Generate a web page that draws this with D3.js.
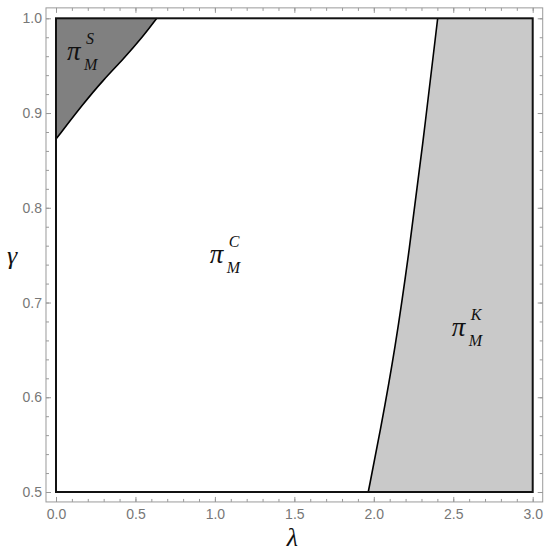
<!DOCTYPE html>
<html>
<head>
<meta charset="utf-8">
<script src="https://cdn.jsdelivr.net/npm/d3@7"></script>
<style>
  body { margin: 0; background: #fff; }
  .tick text { font-family: "Liberation Sans", Arial, sans-serif; font-size: 14px; fill: #777; }
  .tick line { stroke: #999; }
  .lab { font-family: "Liberation Serif", "Times New Roman", serif; font-style: italic; fill: #111; }
</style>
</head>
<body>
<svg id="chart" width="550" height="554"></svg>
<script>
// boundary of the pi_M^S region (lambda, gamma)
var sLambda = [0, 0.172, 0.298, 0.424, 0.549, 0.634];
var sGamma  = [0.8725, 0.910, 0.935, 0.957, 0.981, 1.0];

// boundary of the pi_M^K region (lambda, gamma)
var kLambda = [1.965, 2.040, 2.135, 2.225, 2.305, 2.402];
var kGamma  = [0.5, 0.5635, 0.6515, 0.7571, 0.8627, 1.0];

var xTicks = [0, 0.5, 1.0, 1.5, 2.0, 2.5, 3.0];
var yTicks = [0.5, 0.6, 0.7, 0.8, 0.9, 1.0];

// region labels: anchor of pi (lambda, gamma) and its superscript
var labelSup    = ["S", "C", "K"];
var labelLambda = [0.07, 0.968, 2.49];
var labelGamma  = [0.956, 0.742, 0.6645];

var svg = d3.select("#chart");
var margin = {left: 56, right: 17.3, top: 18.3, bottom: 62};
var W = 550, H = 554;

var x = d3.scaleLinear().domain([0, 3]).range([margin.left, W - margin.right]);
var y = d3.scaleLinear().domain([0.5, 1]).range([H - margin.bottom, margin.top]);

// frame is padded like mathematica does
var fx0 = x(-0.063), fx1 = x(3.063), fy0 = y(0.4895), fy1 = y(1.011);

var curve = d3.line().curve(d3.curveBasis)
    .x(function(d) { return x(d[0]); }).y(function(d) { return y(d[1]); });

var sPts = sLambda.map(function(l, i) { return [l, sGamma[i]]; });
var kPts = kLambda.map(function(l, i) { return [l, kGamma[i]]; });

// filled regions
svg.append("path")
    .attr("d", curve(sPts) + "L" + x(0) + "," + y(1) + "Z")
    .attr("fill", "#808080");
svg.append("path")
    .attr("d", curve(kPts) + "L" + x(3) + "," + y(1) + "L" + x(3) + "," + y(0.5) + "Z")
    .attr("fill", "#c9c9c9");

// boundaries
svg.append("path").attr("d", curve(sPts)).attr("fill", "none").attr("stroke", "#000").attr("stroke-width", 1.6);
svg.append("path").attr("d", curve(kPts)).attr("fill", "none").attr("stroke", "#000").attr("stroke-width", 1.6);
svg.append("rect")
    .attr("x", x(0)).attr("y", y(1))
    .attr("width", x(3) - x(0)).attr("height", y(0.5) - y(1))
    .attr("fill", "none").attr("stroke", "#111").attr("stroke-width", 2);

// frame
svg.append("rect")
    .attr("x", fx0).attr("y", fy1)
    .attr("width", fx1 - fx0).attr("height", fy0 - fy1)
    .attr("fill", "none").attr("stroke", "#9a9a9a").attr("stroke-width", 1);

var xMinor = d3.range(0, 31).map(function(i) { return i / 10; });
var yMinor = d3.range(0, 26).map(function(i) { return 0.5 + i / 50; });

function addAxis(axis, tx, ty, labels) {
  var g = svg.append("g").attr("transform", "translate(" + tx + "," + ty + ")").call(axis);
  g.select(".domain").remove();
  if (!labels) g.selectAll(".tick text").remove();
  return g;
}

// minor ticks
addAxis(d3.axisBottom(x).tickValues(xMinor).tickSize(-3).tickFormat(""), 0, fy0, false);
addAxis(d3.axisTop(x).tickValues(xMinor).tickSize(-3).tickFormat(""), 0, fy1, false);
addAxis(d3.axisLeft(y).tickValues(yMinor).tickSize(-3).tickFormat(""), fx0, 0, false);
addAxis(d3.axisRight(y).tickValues(yMinor).tickSize(-3).tickFormat(""), fx1, 0, false);

// major ticks
addAxis(d3.axisBottom(x).tickValues(xTicks).tickSize(-5).tickPadding(7).tickFormat(d3.format(".1f")), 0, fy0, true);
addAxis(d3.axisTop(x).tickValues(xTicks).tickSize(-5), 0, fy1, false);
addAxis(d3.axisLeft(y).tickValues(yTicks).tickSize(-5).tickPadding(4).tickFormat(d3.format(".1f")), fx0, 0, true);
addAxis(d3.axisRight(y).tickValues(yTicks).tickSize(-5), fx1, 0, false);

// axis titles
svg.append("text").attr("class", "lab")
    .attr("x", (x(0) + x(3)) / 2 - 2).attr("y", 546)
    .attr("text-anchor", "middle").attr("font-size", 26).text("λ");
svg.append("text").attr("class", "lab")
    .attr("x", 12).attr("y", 264)
    .attr("text-anchor", "middle").attr("font-size", 26).text("γ");

// region labels
labelSup.forEach(function(s, i) {
  var px = x(labelLambda[i]), py = y(labelGamma[i]);
  var g = svg.append("g");
  g.append("text").attr("class", "lab").attr("x", px).attr("y", py).attr("font-size", 27).text("π");
  g.append("text").attr("class", "lab").attr("x", px + 19).attr("y", py - 16).attr("font-size", 16).text(s);
  g.append("text").attr("class", "lab").attr("x", px + 17).attr("y", py + 10).attr("font-size", 16).text("M");
});
</script>
</body>
</html>
